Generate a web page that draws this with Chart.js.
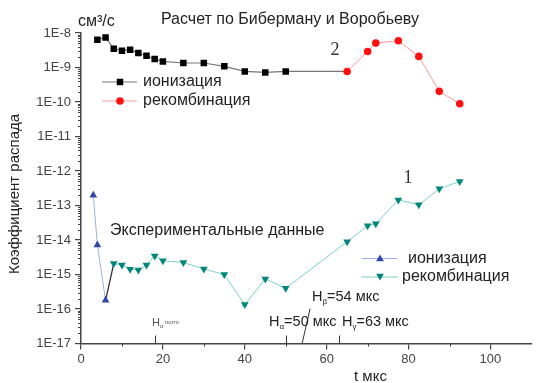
<!DOCTYPE html>
<html><head><meta charset="utf-8">
<script src="https://cdn.jsdelivr.net/npm/chart.js@4/dist/chart.umd.min.js"></script>
<style>html,body{margin:0;padding:0;background:#fff}canvas{display:block}</style>
</head><body>
<canvas id="c" width="536" height="383"></canvas>
<script>
// ---- data ----
const tCalcIon = [4,6,8,10,12,14,16,18,20,25,30,35,40,45,50,65];
const calcIon  = [6.4e-9,7.45e-9,3.5e-9,3.07e-9,3.28e-9,2.63e-9,2.2e-9,1.76e-9,1.5e-9,1.35e-9,1.35e-9,1.08e-9,7.7e-10,7.2e-10,7.7e-10,7.7e-10];
const tCalcRec = [65,70,72,77.5,82.5,87.5,92.5];
const calcRec  = [7.7e-10,2.92e-9,5.1e-9,5.98e-9,2.1e-9,2.04e-10,8.9e-11];
const tExpIon  = [3,4,6];
const expIon   = [2.0e-13,7.2e-15,1.8e-16];
const tExpRec  = [8,10,12,14,16,18,20,25,30,35,40,45,50,65,70,72,77.5,82.5,87.5,92.5];
const expRec   = [2.08e-15,1.9e-15,1.43e-15,1.36e-15,1.9e-15,3.47e-15,2.5e-15,2.23e-15,1.45e-15,1.0e-15,1.35e-16,7.5e-16,4.0e-16,9.0e-15,2.6e-14,2.95e-14,1.46e-13,1.05e-13,3.05e-13,5.0e-13];
const xTicks = [0,20,40,60,80,100];
const xMinorTicks = [10,30,50,70,90];
const yTicks = [1e-17,1e-16,1e-15,1e-14,1e-13,1e-12,1e-11,1e-10,1e-9,1e-8];
const markerLines = [18, 50, 63];   // short vertical marks on the time axis
const hBetaT = 54;

const labelIon = 'ионизация';
const labelRec = 'рекомбинация';

const pts = (xs, ys) => xs.map((x, i) => ({x, y: ys[i]}));
const SANS = '"Liberation Sans", Arial, sans-serif';
const SERIF = '"Liberation Serif", "Times New Roman", serif';

const extras = {
  id: 'extras',
  afterDraw(chart) {
    const ctx = chart.ctx, xs = chart.scales.x, ys = chart.scales.y;
    const axisY = ys.bottom, axisX = xs.left;
    ctx.save();
    // minor ticks
    ctx.strokeStyle = '#444'; ctx.lineWidth = 1;
    ctx.beginPath();
    for (let e = -17; e < -8; e++) {
      for (let m = 2; m <= 9; m++) {
        const py = Math.round(ys.getPixelForValue(m * Math.pow(10, e))) + 0.5;
        ctx.moveTo(axisX - 3, py); ctx.lineTo(axisX, py);
      }
    }
    xMinorTicks.forEach(v => {
      const px = Math.round(xs.getPixelForValue(v)) + 0.5;
      ctx.moveTo(px, axisY); ctx.lineTo(px, axisY + 3);
    });
    ctx.stroke();
    // marker lines
    ctx.strokeStyle = '#333'; ctx.lineWidth = 1;
    ctx.beginPath();
    markerLines.forEach(v => {
      const px = Math.round(xs.getPixelForValue(v)) + 0.5;
      ctx.moveTo(px, axisY); ctx.lineTo(px, axisY - 8);
    });
    const bx = xs.getPixelForValue(hBetaT);
    ctx.moveTo(bx, axisY);
    ctx.lineTo(bx + 8, axisY - 35);
    ctx.stroke();

    ctx.fillStyle = '#222';
    ctx.textBaseline = 'middle';
    // units
    ctx.font = '16px ' + SANS; ctx.textAlign = 'left';
    ctx.fillText('см³/с', 78, 22);
    // title
    ctx.textAlign = 'center';
    ctx.font = '16px ' + SANS;
    ctx.fillText('Расчет по Биберману и Воробьеву', 290, 20);
    // curve numbers
    ctx.font = '18px ' + SERIF;
    ctx.fillStyle = '#333';
    ctx.fillText('2', 335, 50);
    ctx.fillText('1', 408, 178);
    // experimental label
    ctx.fillStyle = '#222';
    ctx.textAlign = 'left';
    ctx.font = '16px ' + SANS;
    ctx.fillText('Экспериментальные данные', 110, 231);
    // x title
    ctx.font = '15px ' + SANS;
    ctx.fillText('t мкс', 354, 377);
    // y title
    ctx.save();
    ctx.translate(15, 194);
    ctx.rotate(-Math.PI / 2);
    ctx.textAlign = 'center';
    ctx.font = '15px ' + SANS;
    ctx.fillText('Коэффициент распада', 0, 0);
    ctx.restore();

    // H annotations
    function hLabel(x, y, sub, rest, big, col) {
      ctx.fillStyle = col;
      ctx.textAlign = 'left';
      ctx.font = big + 'px ' + SANS;
      ctx.fillText('H', x, y);
      let w = ctx.measureText('H').width;
      ctx.font = Math.round(big * 0.55) + 'px ' + SANS;
      ctx.fillText(sub, x + w, y + big * 0.35);
      w += ctx.measureText(sub).width;
      ctx.font = big + 'px ' + SANS;
      ctx.fillText(rest, x + w, y);
    }
    hLabel(269, 322, 'α', '=50 мкс', 14.5, '#222');
    hLabel(342, 322, 'γ', '=63 мкс', 14.5, '#222');
    hLabel(312, 297, 'β', '=54 мкс', 14.5, '#222');
    // H alpha norm
    ctx.fillStyle = '#555';
    ctx.font = '11px ' + SANS;
    ctx.fillText('H', 152, 323);
    ctx.font = '6px ' + SANS;
    ctx.fillText('α', 160, 326);
    ctx.fillText('norm', 165, 322);

    // legends
    function square(x, y, r, c) { ctx.fillStyle = c; const s = r * Math.SQRT1_2; ctx.fillRect(x - s, y - s, 2 * s, 2 * s); }
    function circle(x, y, r, c) { ctx.fillStyle = c; ctx.beginPath(); ctx.arc(x, y, r, 0, Math.PI * 2); ctx.fill(); }
    function tri(x, y, r, c, down) {
      ctx.fillStyle = c; ctx.beginPath();
      const d = down ? -1 : 1;
      ctx.moveTo(x, y - d * r);
      ctx.lineTo(x + r * 0.866, y + d * r / 2);
      ctx.lineTo(x - r * 0.866, y + d * r / 2);
      ctx.closePath(); ctx.fill();
    }
    function legLine(x1, x2, y, c, w) { ctx.strokeStyle = c; ctx.lineWidth = w; ctx.beginPath(); ctx.moveTo(x1, y); ctx.lineTo(x2, y); ctx.stroke(); }
    ctx.font = '16px ' + SANS; ctx.textAlign = 'left';
    legLine(102, 137, 82, '#777', 1.2); square(120, 82, 4.6, '#000');
    ctx.fillStyle = '#222'; ctx.fillText(labelIon, 143, 82);
    legLine(102, 137, 101, '#ff9a9a', 1); circle(120, 101, 3.8, '#ff1010');
    ctx.fillStyle = '#222'; ctx.fillText(labelRec, 143, 101);
    legLine(362, 397, 258.5, '#9fb0e8', 1); tri(380, 259, 4.5, '#3347a8', false);
    ctx.fillStyle = '#222'; ctx.fillText(labelIon, 408, 258.5);
    legLine(361, 398, 277, '#7ccfc4', 1); tri(380, 276, 4.5, '#00877a', true);
    ctx.fillStyle = '#222'; ctx.fillText(labelRec, 402, 277);
    ctx.restore();
  }
};

new Chart(document.getElementById('c'), {
  type: 'line',
  data: {
    datasets: [
      { label: labelRec, data: pts(tCalcRec, calcRec), borderColor: '#ff9a9a', borderWidth: 1,
        pointStyle: 'circle', pointRadius: 3.8, pointBackgroundColor: '#ff1010', pointBorderColor: '#ff1010', pointBorderWidth: 0 },
      { label: labelIon, data: pts(tCalcIon, calcIon), borderColor: '#777', borderWidth: 1.2,
        pointStyle: 'rect', pointRadius: tCalcIon.map((t, i) => i === tCalcIon.length - 1 ? 0 : 4.6),
        pointBackgroundColor: '#000', pointBorderColor: '#000', pointBorderWidth: 0 },
      { label: labelIon, data: pts(tExpIon, expIon), borderColor: '#9fb0e8', borderWidth: 1,
        pointStyle: 'triangle', pointRadius: 4.5, pointBackgroundColor: '#3347a8', pointBorderColor: '#3347a8', pointBorderWidth: 0 },
      { label: labelRec, data: pts(tExpRec, expRec), borderColor: '#7ccfc4', borderWidth: 1,
        pointStyle: 'triangle', rotation: 180, pointRotation: 180, pointRadius: 4.5,
        pointBackgroundColor: '#00877a', pointBorderColor: '#00877a', pointBorderWidth: 0 },
      { label: 'link', data: [{x: tExpIon[tExpIon.length-1], y: expIon[expIon.length-1]}, {x: tExpRec[0], y: expRec[0]}],
        borderColor: '#333', borderWidth: 1.3, pointRadius: 0 }
    ]
  },
  options: {
    responsive: false, animation: false, devicePixelRatio: 1,
    layout: { padding: { top: 33, left: 0, right: 0, bottom: 0 } },
    plugins: { legend: { display: false }, tooltip: { enabled: false }, title: { display: false } },
    elements: { line: { tension: 0 } },
    scales: {
      x: {
        type: 'linear', min: 0, max: 110,
        afterBuildTicks: s => { s.ticks = xTicks.map(v => ({value: v})); },
        afterFit: s => { s.height = 39.4; },
        ticks: { color: '#444', font: { family: SANS, size: 13 }, padding: 2, maxRotation: 0, autoSkip: false },
        grid: { display: true, drawOnChartArea: false, drawTicks: true, tickLength: 6, color: '#444', lineWidth: 1.2 },
        border: { display: true, color: '#444', width: 1.5 }
      },
      y: {
        type: 'logarithmic', min: 1e-17, max: 1e-8,
        afterBuildTicks: s => { s.ticks = yTicks.map(v => ({value: v})); },
        afterFit: s => { s.width = 81; },
        ticks: { color: '#444', font: { family: SANS, size: 13 }, padding: 4, autoSkip: false,
          callback: v => '1E' + Math.round(Math.log10(v)) },
        grid: { display: true, drawOnChartArea: false, drawTicks: true, tickLength: 6, color: '#444', lineWidth: 1.2 },
        border: { display: true, color: '#444', width: 1.5 }
      }
    }
  },
  plugins: [extras]
});
</script>
</body></html>
